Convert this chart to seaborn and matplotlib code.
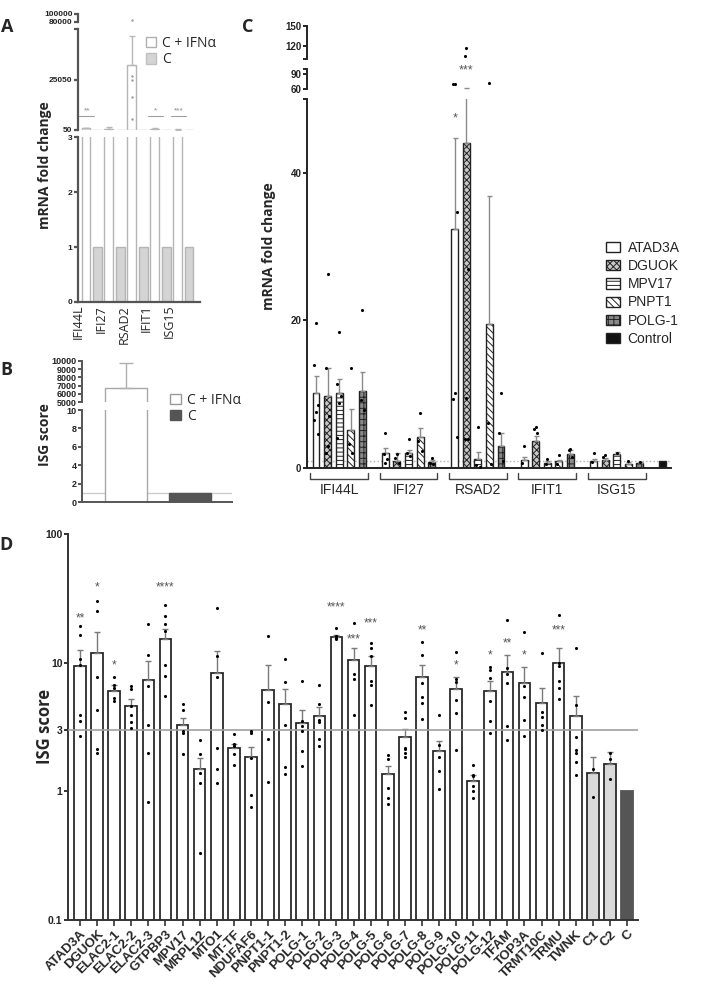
import numpy as np
import pandas as pd
import matplotlib
matplotlib.use('Agg')
import matplotlib.pyplot as plt
import seaborn as sns
from matplotlib.patches import Patch

# ---------------- data ----------------
# Panel A: mRNA fold change, C + IFNa vs C
a_genes = ['IFI44L', 'IFI27', 'RSAD2', 'IFIT1', 'ISG15']
a_ifn = [900, 500, 32500, 700, 300]
a_ifn_top = [1200, 1400, 47000, 1000, 400]
a_ctrl = [1, 1, 1, 1, 1]
a_rsad2_pts = [86000, 27000, 25000, 16500, 5500]
a_sig = ['**', '', '', '*', '***']

# Panel B: ISG score
b_groups = ['C + IFNα', 'C']
b_vals = [6700, 1]
b_top = [9700, 1]

# Panel C: mRNA fold change per patient group
c_genes = ['IFI44L', 'IFI27', 'RSAD2', 'IFIT1', 'ISG15']
c_patients = ['ATAD3A', 'DGUOK', 'MPV17', 'PNPT1', 'POLG-1']
c_atad3a = [10.1, 2.0, 32.4, 1.1, 0.95]
c_dguok = [9.7, 0.9, 44.0, 3.7, 1.1]
c_mpv17 = [10.2, 2.0, 1.2, 0.7, 1.85]
c_pnpt1 = [5.1, 4.2, 19.5, 0.9, 0.6]
c_polg1 = [10.5, 0.8, 3.0, 1.9, 0.7]
c_atad3a_top = [12.4, 2.7, 44.7, 1.5, 1.2]
c_dguok_top = [13.6, 2.0, 63.0, 4.4, 1.4]
c_mpv17_top = [12.1, 2.5, 2.2, 0.9, 2.2]
c_pnpt1_top = [8.0, 5.4, 36.8, 1.1, 0.8]
c_polg1_top = [13.0, 1.1, 4.7, 2.4, 0.8]
c_atad3a_pts = [[19.7, 14.0, 8.5, 7.6, 6.5, 4.6], [4.7, 1.9, 1.2, 0.7],
                [70, 70, 34.7, 10.2, 9.3, 4.2], [3.0, 0.7], [2.0, 0.8]]
c_dguok_pts = [[26.3, 13.6, 7.0, 3.0, 2.0], [1.9, 1.4, 0.7],
               [117, 105, 27.0, 9.5, 3.9, 3.9], [5.6, 5.3, 4.7], [1.8, 1.5]]
c_mpv17_pts = [[18.4, 11.4, 9.8, 8.8, 4.0], [3.9, 2.0, 1.6],
               [5.5, 0.4, 0.1], [1.2, 0.6], [2.0]]
c_pnpt1_pts = [[13.5, 3.2, 2.0], [7.5, 3.6, 2.3], [72, 6.1, 0.5], [1.7, 0.6], [1.0]]
c_polg1_pts = [[21.4, 9.2, 7.8], [1.3, 0.7, 0.5], [10.1, 4.7, 1.0], [2.6, 2.4, 1.5], [0.8]]
c_control = 1.0

# Panel D: ISG score per patient
d_genes = ['ATAD3A', 'DGUOK', 'ELAC2-1', 'ELAC2-2', 'ELAC2-3', 'GTPBP3', 'MPV17',
           'MRPL12', 'MTO1', 'MT-TF', 'NDUFAF6', 'PNPT1-1', 'PNPT1-2', 'POLG-1',
           'POLG-2', 'POLG-3', 'POLG-4', 'POLG-5', 'POLG-6', 'POLG-7', 'POLG-8',
           'POLG-9', 'POLG-10', 'POLG-11', 'POLG-12', 'TFAM', 'TOP3A', 'TRMT10C',
           'TRMU', 'TWNK', 'C1', 'C2', 'C']
d_means = [9.37, 11.9, 6.07, 4.64, 7.34, 15.3, 3.27, 1.5, 8.3, 2.18, 1.85, 6.17,
           4.75, 3.4, 3.84, 15.9, 10.5, 9.37, 1.36, 2.64, 7.8, 2.07, 6.25, 1.2,
           6.07, 8.5, 7.0, 4.84, 10.0, 3.88, 1.4, 1.64, 1.0]
d_top = [12.5, 17.2, 6.7, 5.2, 10.3, 18.3, 3.7, 1.8, 12.4, 2.34, 2.2, 9.6,
         6.25, 4.3, 4.5, 16.4, 13.0, 11.2, 1.58, 3.06, 9.6, 2.47, 7.7, 1.35,
         7.2, 11.4, 9.2, 6.3, 12.9, 5.5, 1.85, 2.03, 1.0]
d_points = [
    [19.4, 16.3, 10.7, 9.6, 3.95, 3.55, 2.67],
    [30.4, 25.4, 7.8, 4.3, 2.12, 2.0],
    [7.7, 6.7, 6.4, 5.3, 5.0],
    [6.6, 6.25, 4.6, 3.95, 3.45, 3.1],
    [20.0, 11.4, 6.6, 3.27, 1.97, 0.82],
    [28.0, 23.0, 20.0, 17.5, 9.6, 7.9, 5.5],
    [4.8, 4.3, 2.93, 2.85, 1.96],
    [2.5, 1.96, 1.4, 1.17, 0.33],
    [26.4, 11.2, 7.7, 2.18, 1.48, 1.17],
    [2.8, 2.34, 2.27, 1.96, 1.59],
    [2.97, 2.85, 1.82, 0.93, 0.76],
    [16.0, 4.96, 2.57, 1.19],
    [10.7, 7.1, 3.25, 1.54, 1.37],
    [7.2, 3.5, 3.2, 2.93, 2.04, 1.57],
    [6.7, 4.8, 3.6, 3.45, 2.57, 2.24],
    [18.6, 16.0, 15.6, 15.4],
    [20.5, 8.2, 7.4, 3.9],
    [14.2, 13.0, 11.2, 7.2, 6.7, 4.7],
    [1.93, 1.77, 1.06, 0.88, 0.8],
    [4.1, 3.7, 2.18, 2.12, 2.0, 1.86],
    [14.6, 11.4, 6.9, 5.4, 4.85, 3.68],
    [3.9, 2.3, 1.86, 1.43, 1.05],
    [12.1, 7.4, 7.1, 5.1, 4.07, 2.1],
    [1.61, 1.35, 1.31, 1.1, 1.0, 0.88],
    [9.2, 8.7, 7.6, 5.0, 3.5, 2.85],
    [21.5, 9.1, 8.2, 7.0, 3.2, 2.5],
    [17.2, 6.55, 5.4, 3.6, 2.7],
    [11.8, 4.1, 3.8, 3.25, 2.99],
    [23.3, 9.9, 9.4, 7.2, 6.3, 5.2],
    [12.9, 4.7, 2.64, 2.08, 2.0, 1.7, 1.33],
    [1.48, 0.91],
    [1.97, 1.77, 1.25],
    [],
]
d_star_genes = ['ATAD3A', 'DGUOK', 'ELAC2-1', 'GTPBP3', 'POLG-3', 'POLG-4', 'POLG-5',
                'POLG-8', 'POLG-10', 'POLG-12', 'TFAM', 'TOP3A', 'TRMU']
d_star_labels = ['**', '*', '*', '****', '****', '***', '***', '**', '*', '*', '**', '*', '***']
d_star_y = [22.2, 38.6, 9.6, 38.6, 26.9, 15.2, 20.3, 17.8, 9.6, 11.3, 14.0, 11.3, 17.8]

# ---------------- style ----------------
sns.set_theme(style='ticks')
plt.rcParams['font.family'] = ['Liberation Sans', 'DejaVu Sans']
plt.rcParams['hatch.linewidth'] = 0.7

W, H = 720, 992
fig = plt.figure(figsize=(W / 100, H / 100), dpi=100)


def add_ax(x0, y0, x1, y1):
    return fig.add_axes([x0 / W, 1 - y1 / H, (x1 - x0) / W, (y1 - y0) / H])


def clean(ax, size, color='#333333', lw=1.3, bottom=False):
    for s in ['top', 'right']:
        ax.spines[s].set_visible(False)
    ax.spines['bottom'].set_visible(bottom)
    for s in ['left', 'bottom']:
        ax.spines[s].set_color(color)
        ax.spines[s].set_linewidth(lw)
    ax.tick_params(axis='y', which='both', length=3, width=lw, color=color,
                   labelsize=size, pad=1, labelcolor='#222222')
    for t in ax.get_yticklabels():
        t.set_fontweight('bold')
    ax.set_xlabel('')
    ax.set_ylabel('')
    ax.set_facecolor('none')
    if not bottom:
        ax.set_xticks([])


# ---------------- panel A ----------------
axA1 = add_ax(78, 14, 200, 22)
axA2 = add_ax(78, 29, 200, 130)
axA3 = add_ax(78, 137, 200, 302)
dfA = pd.DataFrame({'gene': a_genes * 2,
                    'cond': ['C + IFNα'] * 5 + ['C'] * 5,
                    'val': a_ifn + a_ctrl})
palA = {'C + IFNα': 'white', 'C': '#d4d4d4'}
xa = np.arange(len(a_genes))
for ax in (axA2, axA3):
    sns.barplot(data=dfA, x='gene', y='val', hue='cond', order=a_genes,
                hue_order=['C + IFNα', 'C'], palette=palA, width=1.0, gap=0.22,
                edgecolor='#b5b5b5', linewidth=1, errorbar=None, legend=False, ax=ax)
axA2.errorbar(xa - 0.25, a_ifn, yerr=[np.zeros(5), np.array(a_ifn_top) - np.array(a_ifn)],
              fmt='none', ecolor='#b8b8b8', elinewidth=1, capsize=2)
for ax in (axA1, axA2):
    sns.scatterplot(x=[2 - 0.25] * len(a_rsad2_pts), y=a_rsad2_pts, color='#9a9a9a',
                    s=3, linewidth=0, ax=ax, legend=False)
for g, lab in enumerate(a_sig):
    if lab:
        axA2.plot([g - 0.55, g + 0.1], [7050, 7050], color='#a0a0a0', lw=0.8)
        axA2.text(g - 0.2, 8000, lab, ha='center', va='bottom', fontsize=6, color='#888888')
for ax in (axA1, axA2, axA3):
    ax.set_xlim(-0.6, 4.73)
axA1.set_ylim(80000, 100000)
axA1.set_yticks([80000, 100000])
axA2.set_ylim(50, 50550)
axA2.set_yticks([50, 25050])
axA2.set_yticks([50550], minor=True)
axA3.set_ylim(0, 3)
axA3.set_yticks([0, 1, 2, 3])
clean(axA1, 6, '#555555', 1.6)
clean(axA2, 6, '#555555', 1.6)
clean(axA3, 6, '#555555', 1.6, bottom=True)
axA3.set_xticks(xa - 0.6)
axA3.set_xticklabels(a_genes, rotation=90, fontsize=9, family='Open Sans')
axA3.tick_params(axis='x', length=0, pad=2)
axA3.legend(handles=[Patch(facecolor='white', edgecolor='#b0b0b0'),
                     Patch(facecolor='#d4d4d4', edgecolor='#c0c0c0')],
            labels=['C + IFNα', 'C'], loc='upper left',
            bbox_to_anchor=(146 / W, 1 - 36 / H), bbox_transform=fig.transFigure,
            frameon=False, prop={'family': 'Open Sans', 'size': 10},
            handlelength=0.75, handleheight=0.75, handletextpad=0.4,
            labelspacing=0.1, borderpad=0, borderaxespad=0)

# ---------------- panel B ----------------
axB1 = add_ax(82, 361, 232, 402)
axB2 = add_ax(82, 410, 232, 502)
dfB = pd.DataFrame({'group': b_groups, 'val': b_vals})
palB = {'C + IFNα': 'white', 'C': '#555555'}
for ax in (axB1, axB2):
    sns.barplot(data=dfB, x='group', y='val', hue='group', order=b_groups,
                palette=palB, width=0.66, edgecolor='#a8a8a8', linewidth=1,
                errorbar=None, legend=False, ax=ax)
    ax.patches[1].set_edgecolor('#555555')
    ax.set_xlim(-0.69, 1.66)
axB1.errorbar([0], [b_vals[0]], yerr=[[0], [b_top[0] - b_vals[0]]], fmt='none',
              ecolor='#b0b0b0', elinewidth=1, capsize=5)
axB2.axhline(1, color='#cccccc', lw=1, zorder=0)
axB1.set_ylim(5000, 10000)
axB1.set_yticks(range(5000, 10001, 1000))
axB2.set_ylim(0, 10)
axB2.set_yticks(range(0, 11, 2))
clean(axB1, 6.5, '#555555', 1.4)
clean(axB2, 6.5, '#555555', 1.4, bottom=True)
axB2.set_xticks([])
axB2.legend(handles=[Patch(facecolor='white', edgecolor='#999999'),
                     Patch(facecolor='#555555', edgecolor='#555555')],
            labels=['C + IFNα', 'C'], loc='upper left',
            bbox_to_anchor=(170 / W, 1 - 393 / H), bbox_transform=fig.transFigure,
            frameon=False, prop={'family': 'Open Sans', 'size': 10},
            handlelength=0.8, handleheight=0.75, handletextpad=0.4,
            labelspacing=0.05, borderpad=0, borderaxespad=0)

# ---------------- panel C ----------------
axC1 = add_ax(307, 26, 671, 59)
axC2 = add_ax(307, 69, 671, 89)
axC3 = add_ax(307, 99, 671, 468)
c_means = [c_atad3a, c_dguok, c_mpv17, c_pnpt1, c_polg1]
c_tops = [c_atad3a_top, c_dguok_top, c_mpv17_top, c_pnpt1_top, c_polg1_top]
c_pts = [c_atad3a_pts, c_dguok_pts, c_mpv17_pts, c_pnpt1_pts, c_polg1_pts]
c_styles = {'ATAD3A': ('white', ''), 'DGUOK': ('#c8c8c8', 'xxxxx'),
            'MPV17': ('white', '----'), 'PNPT1': ('white', '\\\\\\\\\\'),
            'POLG-1': ('#8a8a8a', '+++'), 'Control': ('#111111', '')}

rows = []
for i, p in enumerate(c_patients):
    for g in range(len(c_genes)):
        rows.append({'pos': 6 * g + i, 'val': c_means[i][g], 'top': c_tops[i][g], 'who': p})
rows.append({'pos': 30, 'val': c_control, 'top': c_control, 'who': 'Control'})
dfC = pd.DataFrame(rows).sort_values('pos').reset_index(drop=True)

sns.barplot(data=dfC, x='pos', y='val', native_scale=True, orient='x', width=0.6,
            color='white', edgecolor='#222222', linewidth=1, errorbar=None, ax=axC3)
who_at = dict(zip(dfC['pos'], dfC['who']))
for patch in axC3.patches:
    pos = int(round(patch.get_x() + patch.get_width() / 2))
    face, hatch = c_styles[who_at[pos]]
    patch.set_facecolor(face)
    patch.set_hatch(hatch)
    patch.set_edgecolor('#222222')

err = dfC[dfC['who'] != 'Control']
for ax in (axC2, axC3):
    ax.errorbar(err['pos'], err['val'], yerr=[np.zeros(len(err)), err['top'] - err['val']],
                fmt='none', ecolor='#8a8a8a', elinewidth=1, capsize=1.8, zorder=1)

px, py = [], []
for i in range(len(c_patients)):
    for g in range(len(c_genes)):
        for k, v in enumerate(c_pts[i][g]):
            px.append(6 * g + i + [0, -0.15, 0.15][k % 3] * (k > 0))
            py.append(v)
for ax in (axC1, axC2, axC3):
    sns.scatterplot(x=px, y=py, color='black', s=5, linewidth=0, ax=ax, legend=False, zorder=5)
    ax.set_xlim(-0.78, 30.7)
axC3.axhline(1, color='#b0b0b0', ls=':', lw=1, zorder=0)
axC3.text(12, 47.3, '*', ha='center', va='center', fontsize=9, color='#555555')
axC2.text(13, 97, '***', ha='center', va='center', fontsize=9, color='#555555')

axC1.set_ylim(100, 150)
axC1.set_yticks([120, 150])
axC1.set_yticks([100], minor=True)
axC2.set_ylim(60, 100)
axC2.set_yticks([60, 90])
axC2.set_yticks([100], minor=True)
axC3.set_ylim(0, 50)
axC3.set_yticks([0, 20, 40])
axC3.set_yticks([50], minor=True)
for ax in (axC1, axC2):
    clean(ax, 7, '#222222', 1.4)
clean(axC3, 7, '#222222', 1.4, bottom=True)
axC3.set_xticks([])
tr = axC3.get_xaxis_transform()
for g, name in enumerate(c_genes):
    x0, x1 = 6 * g - 0.5, 6 * g + 4.5
    axC3.plot([x0, x0, x1, x1], [-0.014, -0.03, -0.03, -0.014], transform=tr,
              color='#444444', lw=1, clip_on=False)
    axC3.text(6 * g + 2, -0.06, name, transform=tr, ha='center', va='center', fontsize=10)
axC3.legend(handles=[Patch(facecolor=c_styles[p][0], hatch=c_styles[p][1], edgecolor='#222222')
                     for p in c_patients + ['Control']],
            labels=c_patients + ['Control'], loc='upper left',
            bbox_to_anchor=(606 / W, 1 - 241 / H), bbox_transform=fig.transFigure,
            frameon=False, fontsize=10, handlelength=1.0, handleheight=0.75,
            handletextpad=0.55, labelspacing=0.3, borderpad=0, borderaxespad=0)

# ---------------- panel D ----------------
axD = add_ax(68, 534, 638, 920)
dfD = pd.DataFrame({'gene': d_genes, 'val': d_means})
sns.barplot(data=dfD, x='gene', y='val', order=d_genes, color='white', width=0.68,
            edgecolor='#2a2a2a', linewidth=1.3, errorbar=None, ax=axD)
for patch in axD.patches[-3:-1]:
    patch.set_facecolor('#d9d9d9')
axD.patches[-1].set_facecolor('#555555')
axD.patches[-1].set_edgecolor('#555555')
xd = np.arange(len(d_genes))
axD.set_yscale('log')
axD.errorbar(xd[:-1], d_means[:-1],
             yerr=[np.zeros(len(xd) - 1), np.array(d_top[:-1]) - np.array(d_means[:-1])],
             fmt='none', ecolor='#7a7a7a', elinewidth=1, capsize=2.5, zorder=3)
dx, dy = [], []
for i, pts in enumerate(d_points):
    for v in pts:
        dx.append(i)
        dy.append(v)
sns.scatterplot(x=dx, y=dy, color='black', s=5, linewidth=0, ax=axD, legend=False, zorder=5)
axD.axhline(3, color='#a0a0a0', lw=1.2, zorder=4)
for gname, lab, yv in zip(d_star_genes, d_star_labels, d_star_y):
    axD.text(d_genes.index(gname), yv, lab, ha='center', va='center', fontsize=8.5, color='#555555')
axD.set_xlim(-0.7, 32.64)
axD.set_ylim(0.1, 100)
axD.set_yticks([0.1, 1, 3, 10, 100])
axD.set_yticklabels(['0.1', '1', '3', '10', '100'])
axD.minorticks_off()
clean(axD, 7.5, '#333333', 1.4, bottom=True)
axD.set_xticks(xd)
axD.set_xticklabels(d_genes, rotation=45, ha='right', rotation_mode='anchor',
                    fontsize=9.5, fontweight='bold')
axD.tick_params(axis='x', length=4, width=1.2, color='#333333', pad=2)

# ---------------- labels ----------------
lab_kw = dict(rotation=90, ha='center', va='center', fontweight='bold', family='Open Sans')
fig.text(45 / W, 1 - 165 / H, 'mRNA fold change', fontsize=10, **lab_kw)
fig.text(45 / W, 1 - 435 / H, 'ISG score', fontsize=10, **lab_kw)
fig.text(269 / W, 1 - 246 / H, 'mRNA fold change', fontsize=10, **lab_kw)
fig.text(45 / W, 1 - 726 / H, 'ISG score', fontsize=12, **lab_kw)
for letter, x, y in [('A', 7, 27), ('B', 6, 370), ('C', 248, 27), ('D', 6, 545)]:
    fig.text(x / W, 1 - y / H, letter, fontsize=13, fontweight='bold',
             family='Open Sans', ha='center', va='center')

fig.savefig('out.png', dpi=100)
